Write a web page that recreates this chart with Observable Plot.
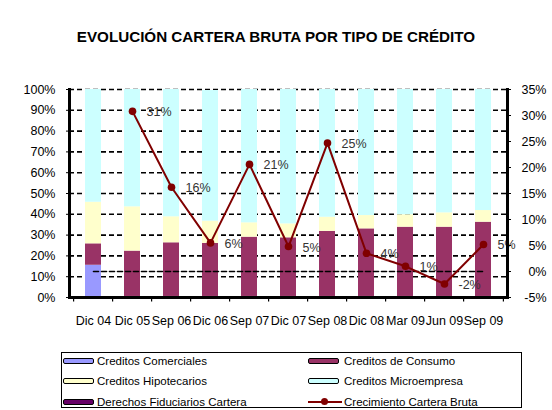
<!DOCTYPE html>
<html>
<head>
<meta charset="utf-8">
<script src="https://cdn.jsdelivr.net/npm/d3@7"></script>
<script src="https://cdn.jsdelivr.net/npm/@observablehq/plot@0.6"></script>
<style>
  body { margin: 0; background: #fff; width: 552px; height: 410px; position: relative; overflow: hidden; font-family: "Liberation Sans", Arial, sans-serif; }
  #title { height: 70px; box-sizing: border-box; padding-top: 28px; text-align: center; font-weight: bold; font-size: 15.2px; line-height: 17px; color: #000; }
  #chart svg { display: block; }
  #legend { position: absolute; left: 61px; top: 352px; width: 461px; height: 56px; border: 1px solid #000; box-sizing: border-box; font-size: 11.5px; color: #000; }
  .item { position: absolute; height: 14px; line-height: 14px; white-space: nowrap; }
  .sw { position: absolute; top: 4px; width: 29px; height: 4px; border: 1.5px solid #000; border-radius: 2px; }
  .ln { position: absolute; top: 6px; width: 34px; height: 2px; background: #800000; }
  .dt { position: absolute; top: 3.5px; left: 13px; width: 7px; height: 7px; border-radius: 50%; background: #800000; }
</style>
</head>
<body>
<div id="title">EVOLUCIÓN CARTERA BRUTA POR TIPO DE CRÉDITO</div>
<div id="chart"></div>
<div id="legend"></div>
<script>
// ---- data ----
const categories = ["Dic 04","Dic 05","Sep 06","Dic 06","Sep 07","Dic 07","Sep 08","Dic 08","Mar 09","Jun 09","Sep 09"];
const derechosFiduciarios = [0.5,0.5,0.5,0.5,0.5,0.5,0.5,0.5,0.5,0.5,0.5];
const creditosComerciales = [15,0,0,0,0,0,0,0,0,0,0];
const creditosConsumo = [10.3,21.8,25.8,25.5,28.5,28.2,31.3,32.5,33.3,33.3,35.7];
const creditosHipotecarios = [20,21.3,12.5,10.7,6.9,6.7,6.8,6.4,6.0,6.9,5.6];
const creditosMicroempresa = [54.2,56.4,61.2,62.8,64.1,64.6,61.4,60.6,60.2,59.3,58.2];
const crecimientoCartera = [null,30.8,16.2,5.5,20.6,4.8,24.7,3.5,1.0,-2.4,5.2];
const leftTicks = [0,10,20,30,40,50,60,70,80,90,100];
const rightTicks = [-5,0,5,10,15,20,25,30,35];

const seriesNames = ["Creditos Comerciales","Creditos de Consumo","Creditos Hipotecarios","Creditos Microempresa","Derechos Fiduciarios Cartera"];
const seriesColors = ["#9999ff","#993366","#ffffcc","#ccffff","#660066"];
const lineName = "Crecimiento Cartera Bruta";
const lineColor = "#800000";

// stacking order (bottom to top)
const stackOrder = [
  ["Derechos Fiduciarios Cartera", derechosFiduciarios],
  ["Creditos Comerciales", creditosComerciales],
  ["Creditos de Consumo", creditosConsumo],
  ["Creditos Hipotecarios", creditosHipotecarios],
  ["Creditos Microempresa", creditosMicroempresa]
];
const bars = [];
categories.forEach((c, i) => {
  stackOrder.forEach(([name, arr]) => bars.push({cat: c, serie: name, value: arr[i]}));
});

// secondary axis (-5%..35%) mapped onto primary (0..100)
const toLeft = v => (v + 5) * 2.5;
const growth = categories.map((c, i) => ({cat: c, g: crecimientoCartera[i]})).filter(d => d.g != null);

const dash = "5,3";
const font = "'Liberation Sans', Arial, sans-serif";
const chart = Plot.plot({
  width: 552,
  height: 262,
  marginTop: 19,
  marginBottom: 35,
  marginLeft: 69,
  marginRight: 45,
  style: {fontFamily: font, fontSize: "12px", color: "#000", background: "#fff"},
  x: {type: "band", domain: categories, paddingInner: 0.6, paddingOuter: 0.3, label: null},
  y: {domain: [0, 100], label: null},
  color: {domain: seriesNames, range: seriesColors},
  marks: [
    // gridlines (primary)
    Plot.ruleY(leftTicks.filter(t => t > 0), {stroke: "#000", strokeWidth: 1.6, strokeDasharray: dash}),
    // stacked bars
    Plot.barY(bars, Plot.stackY({order: null}, {x: "cat", y: "value", fill: "serie"})),
    // secondary zero line
    Plot.line([categories[0], categories[categories.length - 1]], {x: d => d, y: () => toLeft(0), stroke: "#000", strokeWidth: 1.6, strokeDasharray: dash}),
    // growth line
    Plot.line(growth, {x: "cat", y: d => toLeft(d.g), stroke: lineColor, strokeWidth: 2}),
    Plot.dot(growth, {x: "cat", y: d => toLeft(d.g), r: 3.8, fill: lineColor}),
    Plot.text(growth, {x: "cat", y: d => toLeft(d.g), text: d => Math.round(d.g) + "%", dx: 14, dy: 1, textAnchor: "start", fill: "#333", fontSize: 12.5}),
    // x-axis tick marks at band boundaries
    Plot.ruleX(categories, {x: d => d, y1: 0, y2: -2.2, dx: -19.9, stroke: "#000", strokeWidth: 1.2}),
    Plot.ruleX([categories[categories.length - 1]], {x: d => d, y1: 0, y2: -2.2, dx: 19.9, stroke: "#000", strokeWidth: 1.2}),
    // axes
    Plot.axisX({tickSize: 0, tickPadding: 19, fontSize: 12.5, label: null}),
    Plot.axisY(leftTicks, {anchor: "left", tickSize: 3, tickPadding: 11, tickFormat: d => d + "%", label: null, fontSize: 12.5}),
    Plot.axisY(rightTicks.map(toLeft), {anchor: "right", tickSize: 3, tickFormat: () => "", label: null}),
    Plot.text(rightTicks, {y: d => toLeft(d), frameAnchor: "right", dx: 39, textAnchor: "end", text: d => d + "%", fontSize: 12.5, fill: "#000"}),
    Plot.frame({anchor: "left", stroke: "#000", strokeWidth: 3}),
    Plot.frame({anchor: "right", stroke: "#000", strokeWidth: 3}),
    Plot.frame({anchor: "bottom", stroke: "#000", strokeWidth: 3})
  ]
});
document.getElementById("chart").appendChild(chart);

// legend
const legend = document.getElementById("legend");
const legendItems = [
  {name: "Creditos Comerciales", color: "#9999ff", col: 0, row: 0},
  {name: "Creditos de Consumo", color: "#993366", col: 1, row: 0},
  {name: "Creditos Hipotecarios", color: "#ffffcc", col: 0, row: 1},
  {name: "Creditos Microempresa", color: "#ccffff", col: 1, row: 1},
  {name: "Derechos Fiduciarios Cartera", color: "#660066", col: 0, row: 2},
  {name: lineName, color: null, col: 1, row: 2}
];
legendItems.forEach(it => {
  const d = document.createElement("div");
  d.className = "item";
  d.style.left = (it.col === 0 ? 1 : 246) + "px";
  d.style.top = (it.row * 20.5 + 0.5) + "px";
  let sw;
  if (it.color) {
    sw = `<span class="sw" style="background:${it.color};left:0"></span>`;
  } else {
    sw = `<span class="ln" style="left:0"></span><span class="dt"></span>`;
  }
  d.innerHTML = sw + `<span style="position:absolute;left:${it.col === 0 ? 34 : 36}px">${it.name}</span>`;
  legend.appendChild(d);
});
</script>
</body>
</html>
